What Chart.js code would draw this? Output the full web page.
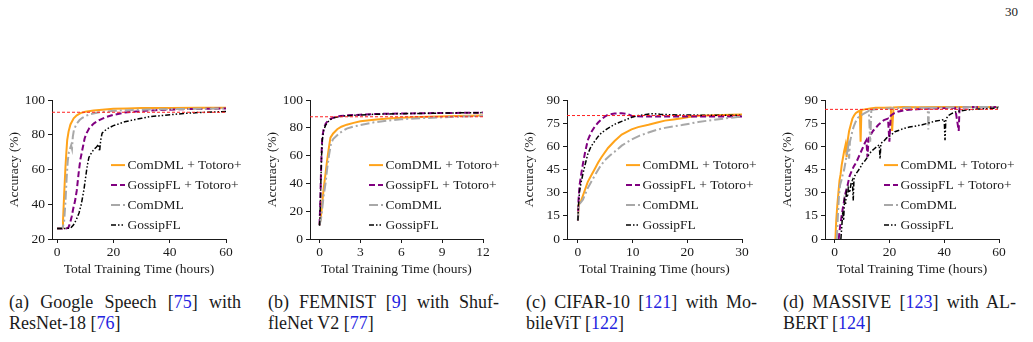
<!DOCTYPE html>
<html>
<head>
<meta charset="utf-8">
<script src="https://cdn.jsdelivr.net/npm/chart.js@4.4.0/dist/chart.umd.min.js"></script>
<style>
  body { margin: 0; background: #fff; }
  #page { position: relative; width: 1033px; height: 342px; overflow: hidden; font-family: "Liberation Serif", serif; color: #1a1a1a; }
  canvas { position: absolute; }
  .cap { position: absolute; top: 292px; font-size: 18px; line-height: 20.5px; }
  .cap .l1 { text-align: justify; text-align-last: justify; white-space: nowrap; }
  .ref { color: #2323e0; }
  #pnum { position: absolute; left: 1005px; top: 4px; font-size: 13px; }
</style>
</head>
<body>
<div id="page">
  <div id="pnum">30</div>
  <canvas id="c0"></canvas>
  <canvas id="c1"></canvas>
  <canvas id="c2"></canvas>
  <canvas id="c3"></canvas>
  <div class="cap" style="left:9px;width:232px"><div class="l1">(a) Google Speech [<span class="ref">75</span>] with</div><div>ResNet-18 [<span class="ref">76</span>]</div></div>
  <div class="cap" style="left:268px;width:231px"><div class="l1">(b) FEMNIST [<span class="ref">9</span>] with Shuf-</div><div>fleNet V2 [<span class="ref">77</span>]</div></div>
  <div class="cap" style="left:526px;width:231px"><div class="l1">(c) CIFAR-10 [<span class="ref">121</span>] with Mo-</div><div>bileViT [<span class="ref">122</span>]</div></div>
  <div class="cap" style="left:783px;width:233px"><div class="l1">(d) MASSIVE [<span class="ref">123</span>] with AL-</div><div>BERT [<span class="ref">124</span>]</div></div>
</div>
<script>
// nomi delle serie (stesso ordine in tutti i pannelli)
const seriesNames = ['ComDML + Totoro+', 'GossipFL + Totoro+', 'ComDML', 'GossipFL'];

// (a) Google Speech - [ore, accuratezza]
const speechComdmlTotoro = [[0,26],[1,26],[1.8,26.5],[2.1,30],[2.5,45],[3,62],[3.3,70],[3.6,77],[4.1,82],[4.75,86],[5.9,89.5],[7,91.2],[8.3,92.5],[10,93.3],[13,94],[16,94.5],[20,95],[25,95.2],[30,95.4],[40,95.5],[50,95.6],[60,95.6]];
const speechGossipTotoro = [[0,26],[3,26],[4,26.5],[4.6,29],[5.2,33],[5.8,38],[6.4,42],[7,48],[7.4,54],[7.8,60],[8.3,66],[8.8,70],[9.3,74],[9.8,78],[10.5,81],[11.5,84],[13,86.5],[15,88.5],[17,90],[20,91.5],[24,92.8],[28,93.5],[35,94.2],[45,94.8],[55,95],[60,95.2]];
const speechComdml = [[0,26],[1,26],[2,26.5],[2.5,30],[3,42],[3.4,55],[3.8,65],[4.2,70],[4.6,72],[5,74],[5.3,72],[5.6,79],[6,83],[7,86.5],[8,88.5],[9,89.8],[10,90.8],[12,92],[15,93],[20,93.8],[25,94.2],[30,94.5],[40,94.8],[50,95],[60,95.2]];
const speechGossip = [[0,26],[3,26],[4.8,26.3],[5.8,28],[6.8,31],[7.8,35],[8.6,40],[9.5,48],[10.1,55],[10.7,62],[11.3,67],[12,69],[13,71.5],[14,73],[14.8,74.5],[15.1,70.5],[15.5,77],[16,81],[17,82.5],[18.4,84],[20,85.3],[21.4,86],[24,87.5],[27.3,88.7],[30,89.5],[33,90.5],[38,91.2],[45,92.3],[50,92.8],[55,93.1],[60,93.5]];

// (b) FEMNIST
const femnistComdmlTotoro = [[0,10],[0.1,16],[0.2,26],[0.3,36],[0.44,47],[0.55,56],[0.69,66],[0.8,73],[1,76],[1.3,79],[1.6,80.8],[2,82.3],[2.5,83.6],[3,84.7],[4,85.9],[5,86.8],[6.4,87.5],[8,88],[10,88.5],[12,89]];
const femnistGossipTotoro = [[0,10],[0.05,25],[0.1,45],[0.15,62],[0.2,73],[0.3,79],[0.45,83],[0.6,85],[0.8,86.5],[1.05,87.5],[1.5,88.5],[2,89],[3,89.5],[4,90],[6,90.3],[8,90.6],[10,90.8],[12,91]];
const femnistComdml = [[0,10],[0.1,14],[0.2,22],[0.3,31],[0.44,40],[0.55,50],[0.69,60],[0.85,69],[1,72],[1.5,76.5],[2,79.5],[2.5,81],[3,82],[4,84],[5,85.2],[6,86.2],[7,86.8],[9,87.6],[10.5,88.2],[12,88.7]];
const femnistGossip = [[0,9.5],[0.05,22],[0.1,42],[0.15,60],[0.2,71],[0.3,78],[0.45,82],[0.6,84.2],[0.8,86],[1.05,87.2],[1.5,88.2],[2,88.8],[3,89.3],[4,89.8],[6,90.2],[8,90.5],[10,90.8],[12,91]];

// (c) CIFAR-10
const cifarComdmlTotoro = [[0,12],[0.1,22],[0.6,25],[0.9,28],[1.8,37],[2.4,41],[3.1,45.5],[3.7,49.5],[4.3,53],[5.5,59],[6.7,63.5],[8,67.7],[9.8,71],[11,72.5],[12.9,74],[14.5,75.5],[15.9,76.7],[17.5,77.5],[19,78.3],[20.5,79.2],[22,79.8],[25,80.2],[28,80.5],[30,80.6]];
const cifarGossipTotoro = [[0,12],[0.1,25],[0.3,35],[0.6,42],[0.9,48.5],[1.3,56],[1.8,64],[2.4,69],[3.1,73],[3.7,75.5],[4.3,77.5],[5,79.5],[5.5,80.5],[6.7,81.3],[8,81.5],[9,81],[10,79.6],[12,79.4],[15,79.4],[20,79.3],[25,79.3],[30,79.4]];
const cifarComdml = [[0,12],[0.1,22],[0.6,24],[0.9,25.5],[1.8,33],[3.1,41.3],[4,46.6],[4.9,51],[5.8,54],[6.7,56.5],[8,60.5],[9.8,64.5],[11.3,67],[12.9,69],[14.5,70.8],[15.9,72],[17.5,73],[19,73.8],[20.5,74.8],[22,75.8],[25,77.3],[28,78.6],[30,79.4]];
const cifarGossip = [[0,12],[0.1,22],[0.3,31],[0.6,37],[0.9,42],[1.3,48],[1.8,55],[2.4,60],[3.1,63.5],[3.7,66.5],[4.3,68.8],[5.2,71],[6.1,73],[7,74.8],[8,76.2],[9,77.6],[9.8,78.8],[11,80],[12,80.5],[13,81],[14,81.2],[15,80.8],[17,80.5],[20,80.3],[25,80.2],[30,80.2]];

// (d) MASSIVE
const massiveComdmlTotoro = [[0.3,0],[0.6,12],[1,22],[1.4,30],[1.8,38],[2.2,42],[2.6,48],[3,52],[3.5,57],[4,61],[4.4,53],[4.7,63],[5.3,70],[5.9,74],[6.5,78],[7.1,80],[7.7,81.5],[8.5,82.5],[9.2,83.2],[9.5,63],[9.8,83.5],[11,84],[13,84.5],[15,85],[18,85],[20.5,85.2],[21,70],[21.5,85.3],[25,85.5],[30,85.3],[40,85.5],[50,85.5],[60,85.5]];
const massiveGossipTotoro = [[1.5,0],[2,8],[2.5,14],[3,20],[3.5,25],[4,30],[4.5,33],[5,37],[5.5,41],[6,43],[7,47],[8,50],[9,54],[10,58],[11,62],[11.6,64],[12,53],[12.4,65],[13,67],[14,70],[15,72],[16,74],[17,75.5],[18,77],[19.5,78],[20,63],[20.5,80],[21.8,81.5],[23,82.5],[26,83.6],[30,84],[35,84.5],[40,84.8],[44,85],[45.3,70],[45.6,85],[50,85.5],[55,85.3],[60,85.5]];
const massiveComdml = [[0.8,0],[1.2,15],[1.6,28],[2,35],[2.5,38],[3,42],[3.5,45],[4,50],[4.5,55],[5,60],[5.3,52],[5.6,63],[6,66],[6.5,70],[7,73],[7.7,76],[8.5,78.5],[9.5,80],[10.5,81],[11.5,82],[12.5,83],[13,63],[13.4,83.5],[15,84],[18,84.5],[22,84.8],[26,85],[30,85],[34,85],[34.2,71],[34.5,85],[40,85.2],[50,85.5],[60,85.5]];
const massiveGossip = [[2.3,0],[2.7,10],[3,18],[3.3,12],[3.6,25],[4,22],[4.3,30],[4.7,27],[5,33],[5.5,30],[6,36],[6.5,38],[6.8,25],[7.1,40],[7.7,42],[8.5,44],[9.3,46],[10,48.5],[11,50.5],[12,53],[12.6,55],[13.5,57],[14.5,58.5],[15.5,60],[16.3,61],[16.6,52],[16.9,62],[18,63.5],[19,65.5],[20,66.5],[21,68],[22,69.5],[23.6,70.5],[25,71.5],[27.3,72.5],[29,73],[32,74],[35,75.5],[37,76.5],[39,77],[40,77.5],[40.3,64],[40.6,77.5],[41.5,80],[43,81.5],[44.5,82.5],[46,83],[48,83.6],[52,84.2],[56,84.5],[60,85]];

// tick e soglie (linea rossa tratteggiata)
const xTicksList = [[0,20,40,60],[0,3,6,9,12],[0,10,20,30],[0,20,40,60]];
const yTicksList = [[20,40,60,80,100],[0,20,40,60,80,100],[0,15,30,45,60,75,90],[0,15,30,45,60,75,90]];
const targetAcc = [93, 88, 80, 84];

// stili delle linee
const lineStyles = [
  { color: '#ffa31a', width: 2, dash: [] },
  { color: '#800080', width: 2, dash: [6, 3] },
  { color: '#a8a8a8', width: 2, dash: [9, 3, 2, 3] },
  { color: '#000000', width: 1.5, dash: [5, 2, 1.5, 2, 1.5, 2] }
];

// layout dei pannelli (posizione assi in pixel di pagina)
const panels = [
  { L: 52,  R: 226, xMin: -1.8, xMax: 60, series: [speechComdmlTotoro, speechGossipTotoro, speechComdml, speechGossip] },
  { L: 310, R: 483.5, xMin: -0.7, xMax: 12, series: [femnistComdmlTotoro, femnistGossipTotoro, femnistComdml, femnistGossip] },
  { L: 567, R: 742, xMin: -2, xMax: 30, series: [cifarComdmlTotoro, cifarGossipTotoro, cifarComdml, cifarGossip] },
  { L: 825, R: 999, xMin: -3.5, xMax: 60, series: [massiveComdmlTotoro, massiveGossipTotoro, massiveComdml, massiveGossip] }
];

const TOP = 97, BOTTOM = 239, PAD_TOP = 8, PAD_RIGHT = 30, Y_BOX = 50, X_BOX = 43;
const font = { family: '"Liberation Serif"', size: 13.5 };
const ink = '#1a1a1a';

// legenda disegnata dentro l'area del grafico
const insideLegend = {
  id: 'insideLegend',
  afterDraw(chart) {
    const ctx = chart.ctx;
    const a = chart.chartArea;
    ctx.save();
    ctx.font = '13.5px "Liberation Serif"';
    ctx.textBaseline = 'middle';
    ctx.fillStyle = ink;
    seriesNames.forEach((name, i) => {
      const y = a.top + 65 + i * 20;
      const st = lineStyles[i];
      ctx.strokeStyle = st.color;
      ctx.lineWidth = st.width;
      ctx.setLineDash(st.dash);
      ctx.beginPath();
      ctx.moveTo(a.left + 59, y);
      ctx.lineTo(a.left + 73, y);
      ctx.stroke();
      ctx.setLineDash([]);
      ctx.fillText(name, a.left + 75.5, y + 0.5);
    });
    ctx.restore();
  }
};

function drawPanels() {
  panels.forEach((p, k) => {
    const canvas = document.getElementById('c' + k);
    const w = (p.R - p.L) + Y_BOX + PAD_RIGHT;
    const h = PAD_TOP + (BOTTOM - TOP) + X_BOX;
    canvas.width = w;
    canvas.height = h;
    canvas.style.left = (p.L - Y_BOX) + 'px';
    canvas.style.top = (TOP - PAD_TOP) + 'px';

    const yT = yTicksList[k];
    const datasets = p.series.map((s, i) => ({
      label: seriesNames[i],
      data: s.map(([x, y]) => ({ x, y })),
      borderColor: lineStyles[i].color,
      borderWidth: lineStyles[i].width,
      borderDash: lineStyles[i].dash,
      order: 4 - i
    }));
    datasets.unshift({
      label: 'target',
      data: [{ x: p.xMin, y: targetAcc[k] }, { x: p.xMax, y: targetAcc[k] }],
      borderColor: '#ff2020',
      borderWidth: 1,
      borderDash: [3, 2],
      order: 0
    });

    new Chart(canvas, {
      type: 'line',
      data: { datasets },
      options: {
        responsive: false,
        animation: false,
        layout: { padding: { top: PAD_TOP, right: PAD_RIGHT, left: 0, bottom: 0 } },
        plugins: { legend: { display: false }, tooltip: { enabled: false } },
        elements: { point: { radius: 0 }, line: { tension: 0 } },
        scales: {
          x: {
            type: 'linear',
            min: p.xMin,
            max: p.xMax,
            afterBuildTicks: s => { s.ticks = xTicksList[k].map(v => ({ value: v })); },
            afterFit: s => { s.height = X_BOX; },
            grid: { drawOnChartArea: false, drawTicks: true, tickLength: 4, color: ink },
            border: { display: true, color: ink, width: 1 },
            ticks: { font, color: ink, padding: 1, maxRotation: 0, autoSkip: false },
            title: { display: true, text: 'Total Training Time (hours)', font, color: ink, padding: { top: 0, bottom: 4 } }
          },
          y: {
            min: yT[0],
            max: yT[yT.length - 1],
            afterBuildTicks: s => { s.ticks = yT.map(v => ({ value: v })); },
            afterFit: s => { s.width = Y_BOX; },
            grid: { drawOnChartArea: false, drawTicks: true, tickLength: 4, color: ink },
            border: { display: true, color: ink, width: 1 },
            ticks: { font, color: ink, padding: 3, autoSkip: false },
            title: { display: true, text: 'Accuracy (%)', font, color: ink, padding: { top: 4, bottom: 0 } }
          }
        }
      },
      plugins: [insideLegend]
    });
  });
}

// aspetta il font serif prima di disegnare sul canvas
document.fonts.load('13.5px "Liberation Serif"').then(drawPanels, drawPanels);
</script>
</body>
</html>
